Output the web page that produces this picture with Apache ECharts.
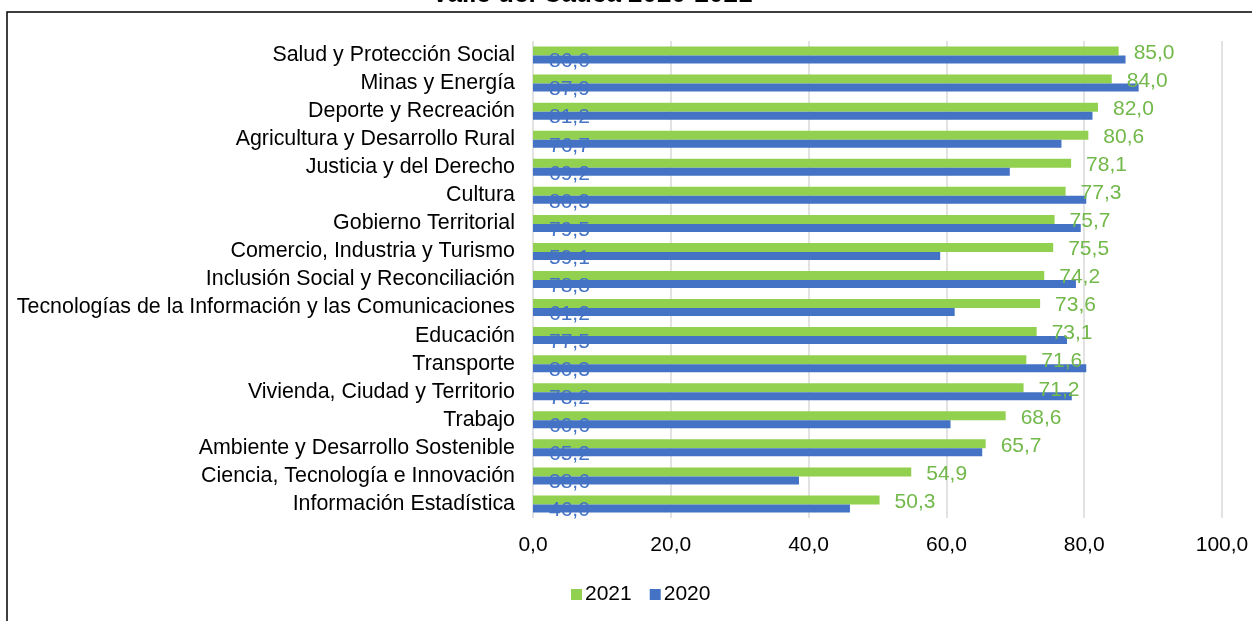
<!DOCTYPE html>
<html>
<head>
<meta charset="utf-8">
<script src="https://cdn.jsdelivr.net/npm/echarts@6/dist/echarts.min.js"></script>
<style>html,body{margin:0;padding:0;background:#fff}#c{width:1252px;height:621px}</style>
</head>
<body>
<div id="c"></div>
<script>
var categories = ["Salud y Protección Social","Minas y Energía","Deporte y Recreación","Agricultura y Desarrollo Rural","Justicia y del Derecho","Cultura","Gobierno Territorial","Comercio, Industria y Turismo","Inclusión Social y Reconciliación","Tecnologías de la Información y las Comunicaciones","Educación","Transporte","Vivienda, Ciudad y Territorio","Trabajo","Ambiente y Desarrollo Sostenible","Ciencia, Tecnología e Innovación","Información Estadística"];
var values2021 = [85.0,84.0,82.0,80.6,78.1,77.3,75.7,75.5,74.2,73.6,73.1,71.6,71.2,68.6,65.7,54.9,50.3];
var values2020 = [86.0,87.9,81.2,76.7,69.2,80.3,79.5,59.1,78.8,61.2,77.5,80.3,78.2,60.6,65.2,38.6,46.0];
var xTicks = [0,20,40,60,80,100];

function fmt(v){ return Number(v).toFixed(1).replace('.', ','); }
var FONT = 'Liberation Sans, Arial, sans-serif';
var chart = echarts.init(document.getElementById('c'));
chart.setOption({
  animation:false,
  textStyle:{fontFamily:FONT},
  graphic:[
    {type:'rect', shape:{x:7,y:12,width:1400,height:800}, style:{fill:'none', stroke:'#000', lineWidth:1.5}, silent:true},
    {type:'text', style:{text:'Valle del Cauca 2020-2021', x:592, y:8, align:'center', verticalAlign:'bottom', font:'bold 26px Liberation Sans, Arial, sans-serif', fill:'#000'}}
  ],
  legend:{
    data:['2021','2020'], left:566, top:579, itemWidth:11, itemHeight:11, itemGap:18,
    icon:'rect', textStyle:{fontSize:21, color:'#000', fontFamily:FONT, padding:[0,0,0,-2]}
  },
  grid:{left:533, right:30, top:41, bottom:103},
  xAxis:{
    type:'value', min:xTicks[0], max:xTicks[xTicks.length-1], interval:20,
    axisLine:{show:false}, axisTick:{show:false},
    axisLabel:{formatter:fmt, fontSize:21, color:'#000', margin:17, fontFamily:FONT},
    splitLine:{show:true, lineStyle:{color:'#d9d9d9', width:1.5}}
  },
  yAxis:{
    type:'category', data:categories, inverse:true,
    axisLine:{show:false}, axisTick:{show:false},
    axisLabel:{fontSize:21.4, color:'#000', margin:18, fontFamily:FONT, padding:[6,0,0,0]}
  },
  series:[
    {name:'2021', type:'bar', data:values2021, barWidth:9, barGap:'0%',
     itemStyle:{color:'#92D050'},
     label:{show:true, position:'right', distance:15, offset:[0,2], formatter:function(p){return fmt(p.value);}, fontSize:21, color:'#72B84A', fontFamily:FONT}},
    {name:'2020', type:'bar', data:values2020, barWidth:8,
     itemStyle:{color:'#4472C4'},
     label:{show:true, position:'insideLeft', distance:16, offset:[0,2], formatter:function(p){return fmt(p.value);}, fontSize:21, color:'#4472C4', fontFamily:FONT}}
  ]
});
</script>
</body>
</html>
